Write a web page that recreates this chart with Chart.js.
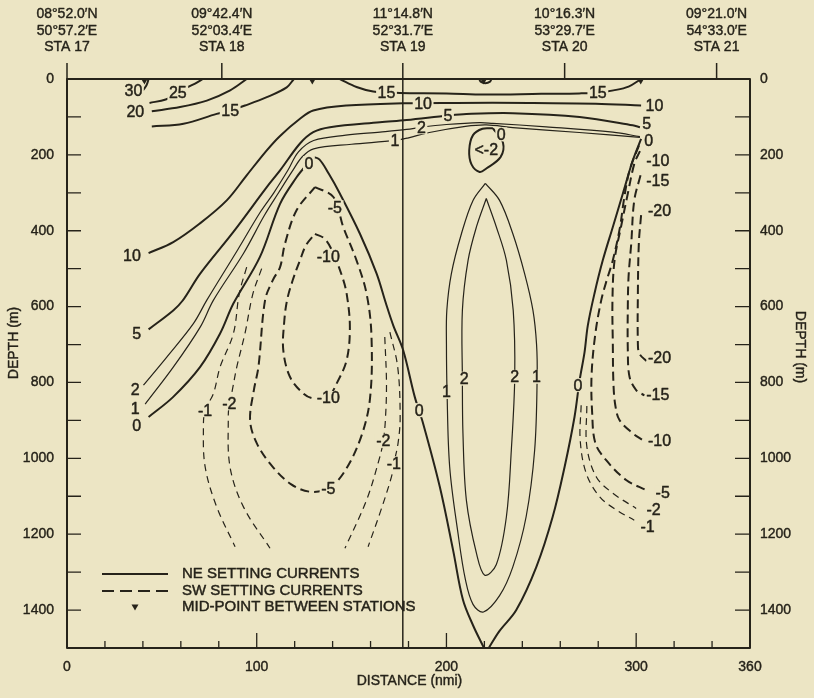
<!DOCTYPE html>
<html><head><meta charset="utf-8">
<script src="https://cdn.jsdelivr.net/npm/chart.js@4.4.1/dist/chart.umd.min.js"></script>
<style>html,body{margin:0;padding:0;background:#ECE5C3;}canvas{display:block}</style>
</head><body>
<canvas id="c" width="814" height="698" style="width:814px;height:698px"></canvas>
<script>
// ---------- stations / axes ----------
const STATION_DIST = [0, 81.6, 177, 262.3, 342.4];
const STATION_LAT = ["08°52.0′N","09°42.4′N","11°14.8′N","10°16.3′N","09°21.0′N"];
const STATION_LON = ["50°57.2′E","52°03.4′E","52°31.7′E","53°29.7′E","54°33.0′E"];
const STATION_NAME = ["STA 17","STA 18","STA 19","STA 20","STA 21"];
const MIDPOINTS = [40.8, 129.3, 219.6, 302.4];
const X_TICKS = [20,40,60,80,100,120,140,160,180,200,220,240,260,280,300,320,340];
const X_LABELS = [0,100,200,300,360];
const Y_TICKS = [100,200,300,400,500,600,700,800,900,1000,1100,1200,1300,1400];
const Y_LABELS = [0,200,400,600,800,1000,1200,1400];

// ---------- NE setting (solid) contours: [distance nmi, depth m] ----------
const ne30 = [[43,0],[42.4,10],[41.5,20],[40,30]];
const ne25 = [[43.5,63],[52,54],[58.4,38],[63.2,23],[67.5,12],[71.6,0]];
const ne20 = [[44.7,85],[59.6,74],[73.7,57],[86,30],[94.7,0]];
const ne15a = [[44.7,125],[61.4,118],[78.9,92],[86,83],[93.8,70],[105.3,48],[115.8,22],[119.6,0]];
const ne15b = [[143.8,0],[152.6,21],[161.4,33],[168.4,35],[175.4,37],[200,38],[220,41],[250,39],[270,38],[279.8,36],[288,30],[296,20],[302.6,0]];
const ne15c = [[217.3,0],[218,7],[220.5,11],[223,7],[223.7,0]];
const ne10 = [[43,459],[56,430],[70,381],[84.2,320],[94.7,254],[105.3,188],[112.3,150],[122.8,105],[129.8,83],[147.4,70],[177,64],[205,63],[243.6,63],[278.7,65],[302.6,70]];
const ne5 = [[43,660],[56,610],[61,584],[70.2,513],[87.7,403],[105.3,285],[112.3,241],[122.8,170],[129.8,140],[138.6,127],[164.9,114],[179,108],[200.8,96],[210.5,92],[235,90],[270.2,100],[298.2,122],[302,127]];
const ne2 = [[40.3,807],[52.6,733],[66.6,645],[73.7,583],[90,450],[102,350],[109,300],[116.5,240],[122,192],[130,162],[147,148],[165,140],[179,133],[186.8,127],[200,120],[217.5,115],[224.5,117],[252.6,126],[287.7,140],[302,152]];
const ne1 = [[41.2,857],[56.1,759],[70.2,654],[77.2,583],[93,460],[104,360],[111.5,300],[118.5,245],[124,205],[130,184],[150,172],[172.8,162],[180,155],[191,141],[210,125],[221,121],[235,128],[270,141],[302,154]];
const ne0 = [[43,891],[56,838],[70.2,759],[80.7,671],[87.7,592],[101.7,469],[112.3,329],[121,259],[126,228],[130,208],[133,212],[138,250],[143.8,302],[154.4,408],[163.2,513],[168,590],[172,650],[177.2,715],[183.3,838],[187.7,908],[196.5,1075],[203.5,1242],[208.7,1373],[214,1440],[219.8,1500]];
const ne0R = [[302.6,158],[298.2,215],[293,302],[287.7,390],[282.4,478],[278,566],[274.5,650],[272.8,720],[270.2,794],[267.5,891],[262.3,1022],[256,1154],[247.4,1286],[236.8,1400],[228,1455],[222.3,1500]];
const ne0loop = [[224.5,130],[229.8,168],[228.5,206],[221,236],[217.5,245],[213.2,225],[212,188],[214,148],[219,131],[224.5,130]];
const loop1 = [[220.5,275],[228,320],[235,408],[241.2,513],[245.6,610],[247.5,700],[247.8,790],[246.5,978],[242,1154],[235,1286],[228,1362],[219.5,1405],[214,1385],[210,1320],[206.1,1198],[201.7,1022],[200.3,820],[200,700],[200.2,610],[202.6,513],[207.9,408],[214,320],[220.5,275]];
const loop2 = [[221,315],[226.3,390],[231.6,478],[235.2,610],[236,785],[234.2,978],[231.6,1154],[226.3,1280],[220.2,1308],[215.8,1250],[210.5,1110],[208.7,934],[208.4,790],[208.4,610],[211.4,478],[215.8,390],[221,315]];

// ---------- SW setting (dashed) contours ----------
const sw5L = [[130.7,285],[140.4,311],[145.6,390],[152.6,478],[157.9,566],[160.5,680],[159.6,847],[154.4,952],[145.6,1040],[137.7,1079],[128,1088],[118,1068],[108,1020],[100,960],[96.5,900],[98.5,820],[100.9,759],[104.4,583],[108.5,530],[112.3,496],[114.9,434],[121,346],[130.7,285]];
const sw10L = [[130.7,408],[136,422],[140.4,460],[145,520],[147.4,566],[149.1,654],[147.4,741],[142.1,803],[137.7,838],[129.8,842],[124.5,829],[117.5,785],[114,715],[114.5,640],[116,583],[119,530],[122.8,478],[126,438],[130.7,408]];
const sw1L = [[94.7,496],[90.8,566],[87.7,671],[80.7,759],[77.2,829],[72.8,873],[71.9,917],[72.8,1022],[78.9,1128],[88.6,1233]];
const sw2L = [[102.6,500],[98,566],[93.8,671],[89.5,759],[86.8,829],[85.6,855],[85,891],[85.9,1022],[93,1128],[107,1237]];
const sw2M = [[167.5,680],[168.4,803],[167.8,900],[166.7,954],[164.9,996],[157.9,1110],[146.5,1237]];
const sw1M = [[170.2,667],[174.3,759],[175.6,891],[174.5,960],[172.3,1013],[171,1049],[164.9,1145],[158.7,1233]];
const sw5R = [[301.5,175],[296.5,241],[293.5,320],[291.5,390],[287.7,478],[284.5,530],[281.6,583],[278.5,671],[276.5,780],[276.8,880],[278.5,960],[284.2,1005],[294.7,1057],[305.3,1084]];
const sw10R = [[302,190],[299.1,222],[295.6,302],[292,390],[288.6,478],[287.5,583],[287.7,700],[288,800],[289,860],[291.2,899],[298.2,934],[303.5,952]];
const sw15R = [[302.3,254],[299,320],[297.4,434],[296,520],[295.6,600],[295.6,715],[296.5,785],[300,820],[304.4,834]];
const sw20R = [[302.6,359],[301.4,434],[300.9,566],[300.9,697],[301.7,724],[306,746]];
const sw2R = [[274,862],[274,969],[279,1049],[287.7,1092],[300,1132]];
const sw1R = [[271,860],[270.5,952],[273.7,1040],[280.7,1101],[289.5,1136],[299,1163]];

// ---------- contour labels: [text, distance, depth] ----------
const CONTOUR_LABELS = [
 ["30",35,30],["25",58.4,37],["20",36,87],["15",86,83],["10",34.2,465],["5",36.8,671],
 ["2",35.9,819],["1",35.9,869],["0",36.8,915],["15",168.4,35],["15",279.8,36],
 ["10",187.7,64],["10",309.6,70],["5",200.8,96],["5",305.5,118],["2",186.8,127],
 ["1",172.8,162],["0",306.6,162],["0",127.5,222],["0",228.9,146],["<-2",221,186],
 ["-5",141.2,338],["-10",137.7,469],["-10",137.7,841],["-5",137.7,1079],
 ["-1",72.8,873],["-2",85.6,855],["-2",166.7,954],["-1",172.3,1013],
 ["0",185.6,873],["1",200,825],["2",209.3,790],["2",236,785],["1",247.4,785],["0",269.3,807],
 ["-10",311.4,215],["-15",311.4,267],["-20",312.3,346],["-20",312.3,734],["-15",311.4,832],
 ["-10",312.3,952],["-5",314,1091],["-2",309.2,1135],["-1",306,1180]
];

const BG = '#ECE5C4';
const INK = '#26231A';
const FONT = '"Liberation Sans", Arial, sans-serif';

const THICK = 2, THIN = 1.2;
const lines = [
 [ne30,THICK,null],[ne25,THICK,null],[ne20,THICK,null],[ne15a,THICK,null],[ne15b,THICK,null],[ne15c,THICK,null],
 [ne10,THICK,null],[ne5,THICK,null],[ne2,THIN,null],[ne1,THIN,null],[ne0,THICK,null],[ne0R,THICK,null],
 [ne0loop,THICK,null],[loop1,THIN,null],[loop2,THIN,null],
 [sw5L,THICK,[9,5]],[sw10L,THICK,[9,5]],[sw1L,THIN,[7,5]],[sw2L,THIN,[7,5]],[sw2M,THIN,[7,5]],[sw1M,THIN,[7,5]],
 [sw5R,THICK,[9,5]],[sw10R,THICK,[9,5]],[sw15R,THICK,[9,5]],[sw20R,THICK,[9,5]],[sw2R,THIN,[7,5]],[sw1R,THIN,[7,5]]
];

const datasets = lines.map(([pts,w,dash]) => ({
  data: pts.map(p => ({x:p[0], y:p[1]})),
  showLine: true, borderColor: INK, borderWidth: w, borderDash: dash || [],
  pointRadius: 0, tension: 0.35, fill: false
}));
datasets.push({
  data: MIDPOINTS.map(d => ({x:d, y:4.6})),
  showLine: false, pointStyle: 'triangle', rotation: 180, pointRadius: 3.8,
  backgroundColor: INK, borderColor: INK, borderWidth: 0
});

function txt(ctx, t, px, py) {
  ctx.fillText(t, px, py);
  ctx.strokeText(t, px, py);
}

const deco = {
  id: 'deco',
  beforeDraw(chart) {
    const c = chart.ctx; c.save(); c.fillStyle = BG; c.fillRect(0,0,chart.width,chart.height); c.restore();
  },
  afterDatasetsDraw(chart) {
    const {ctx, chartArea: a, scales: {x, y}} = chart;
    ctx.save();
    ctx.lineJoin = 'round';
    // contour labels
    ctx.font = '16px ' + FONT; ctx.textAlign = 'center'; ctx.textBaseline = 'middle';
    for (const [t,d,z] of CONTOUR_LABELS) {
      const px = x.getPixelForValue(d), py = y.getPixelForValue(z);
      const w = ctx.measureText(t).width;
      ctx.fillStyle = BG; ctx.fillRect(px - w/2 - 1.5, py - 7, w + 3, 14);
      ctx.fillStyle = INK; ctx.strokeStyle = INK; ctx.lineWidth = 0.45;
      txt(ctx, t, px, py + 1);
    }
    ctx.strokeStyle = INK; ctx.fillStyle = INK;
    // station ticks and STA 19 vertical line
    ctx.lineWidth = 1.5;
    STATION_DIST.forEach((d,i) => {
      const px = x.getPixelForValue(d);
      ctx.beginPath(); ctx.moveTo(px, a.top - 16);
      ctx.lineTo(px, i === 2 ? a.bottom : a.top); ctx.stroke();
    });
    // frame
    ctx.lineWidth = 2;
    ctx.strokeRect(a.left, a.top, a.right - a.left, a.bottom - a.top);
    // y ticks
    ctx.lineWidth = 1.3;
    for (const v of Y_TICKS) {
      const py = y.getPixelForValue(v);
      ctx.beginPath(); ctx.moveTo(a.left, py); ctx.lineTo(a.left + 14, py);
      ctx.moveTo(a.right - 15, py); ctx.lineTo(a.right, py); ctx.stroke();
    }
    // x ticks
    for (const v of X_TICKS) {
      const px = x.getPixelForValue(v);
      const len = v % 100 === 0 ? 15 : 7;
      ctx.beginPath(); ctx.moveTo(px, a.bottom); ctx.lineTo(px, a.bottom - len); ctx.stroke();
    }
    // tick labels
    ctx.lineWidth = 0.4;
    ctx.font = '14px ' + FONT; ctx.textBaseline = 'middle';
    for (const v of Y_LABELS) {
      const py = y.getPixelForValue(v);
      ctx.textAlign = 'right'; txt(ctx, String(v), a.left - 13, py);
      ctx.textAlign = 'left'; txt(ctx, String(v), a.right + 10, py);
    }
    ctx.textAlign = 'center';
    for (const v of X_LABELS) txt(ctx, String(v), x.getPixelForValue(v), 667);
    txt(ctx, 'DISTANCE (nmi)', (a.left + a.right)/2 + 1, 681);
    // station labels
    STATION_DIST.forEach((d,i) => {
      const px = x.getPixelForValue(d);
      txt(ctx, STATION_LAT[i], px, 14);
      txt(ctx, STATION_LON[i], px, 31);
      txt(ctx, STATION_NAME[i], px, 47);
    });
    // axis titles
    ctx.save(); ctx.translate(14, 343); ctx.rotate(-Math.PI/2); txt(ctx, 'DEPTH (m)', 0, 0); ctx.restore();
    ctx.save(); ctx.translate(800, 347); ctx.rotate(Math.PI/2); txt(ctx, 'DEPTH (m)', 0, 0); ctx.restore();
    // legend
    ctx.lineWidth = 2;
    ctx.beginPath(); ctx.moveTo(102, 574); ctx.lineTo(168, 574); ctx.stroke();
    ctx.setLineDash([12,6]);
    ctx.beginPath(); ctx.moveTo(102, 591); ctx.lineTo(168, 591); ctx.stroke();
    ctx.setLineDash([]);
    ctx.beginPath(); ctx.moveTo(131.5, 604.5); ctx.lineTo(138.5, 604.5); ctx.lineTo(135, 610.5); ctx.closePath(); ctx.fill();
    ctx.lineWidth = 0.45;
    ctx.font = '15px ' + FONT; ctx.textAlign = 'left';
    txt(ctx, 'NE SETTING CURRENTS', 182, 574);
    txt(ctx, 'SW SETTING CURRENTS', 182, 591);
    txt(ctx, 'MID-POINT BETWEEN STATIONS', 182, 607);
    ctx.restore();
  }
};

new Chart(document.getElementById('c'), {
  type: 'scatter',
  data: { datasets },
  options: {
    responsive: false, animation: false, devicePixelRatio: 1,
    layout: { padding: { left: 67, right: 64, top: 79, bottom: 50 } },
    scales: {
      x: { type: 'linear', min: 0, max: 360, display: false },
      y: { type: 'linear', min: 0, max: 1500, reverse: true, display: false }
    },
    plugins: { legend: { display: false }, tooltip: { enabled: false } }
  },
  plugins: [deco]
});
</script>
</body></html>
